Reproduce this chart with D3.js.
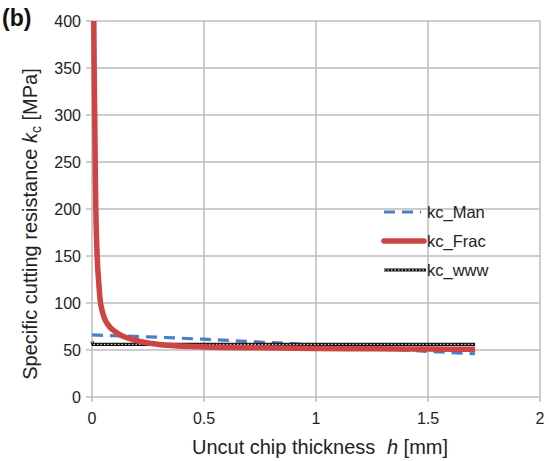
<!DOCTYPE html>
<html>
<head>
<meta charset="utf-8">
<script src="https://cdn.jsdelivr.net/npm/d3@7"></script>
<style>
  html, body { margin: 0; padding: 0; background: #fff; }
  svg { display: block; font-family: "Liberation Sans", Arial, Helvetica, sans-serif; }
</style>
</head>
<body>
<svg id="chart" width="549" height="461"></svg>
<script>
// Uncut chip thickness h [mm] and specific cutting resistance kc [MPa]
const manH   = [0, 0.25, 0.5, 0.75, 1.0, 1.25, 1.5, 1.71];
const manKc  = [66, 64, 61.5, 58.5, 55.5, 52, 48.5, 46];

const fracH  = [0.008, 0.010, 0.012, 0.015, 0.017, 0.020, 0.025, 0.030, 0.036, 0.045, 0.055, 0.071, 0.09, 0.116, 0.15, 0.19, 0.25, 0.34, 0.5, 0.75, 1.0, 1.25, 1.5, 1.71];
const fracKc = [400, 340, 300, 235, 200, 170, 140, 122, 104, 92, 84, 77, 72, 67.5, 63.5, 60.5, 57.5, 55, 53.2, 52.3, 51.7, 51.3, 51, 50.8];

const wwwH   = [0, 0.004, 0.5, 1.0, 1.5, 1.71];
const wwwKc  = [59, 56, 56, 56, 56, 56];

const xTicks = [0, 0.5, 1, 1.5, 2];
const yTicks = [0, 50, 100, 150, 200, 250, 300, 350, 400];
const seriesNames = ["kc_Man", "kc_Frac", "kc_www"];

const svg = d3.select("#chart");
const plotLeft = 92, plotRight = 540, plotTop = 21, plotBottom = 397;

const x = d3.scaleLinear().domain([0, 2]).range([plotLeft, plotRight]);
const y = d3.scaleLinear().domain([0, 400]).range([plotBottom, plotTop]);

const gridColor = "#bdbdbd";

// Grid lines with small tick overhangs
svg.append("g").selectAll("line").data(yTicks).join("line")
  .attr("x1", plotLeft - 6).attr("x2", plotRight)
  .attr("y1", d => y(d)).attr("y2", d => y(d))
  .attr("stroke", gridColor).attr("stroke-width", 1.5);

svg.append("g").selectAll("line").data(xTicks).join("line")
  .attr("x1", d => x(d)).attr("x2", d => x(d))
  .attr("y1", plotTop).attr("y2", plotBottom + 5)
  .attr("stroke", gridColor).attr("stroke-width", 1.5);

// Tick labels
svg.append("g").selectAll("text").data(yTicks).join("text")
  .attr("x", plotLeft - 11).attr("y", d => y(d) + 6)
  .attr("text-anchor", "end").attr("font-size", 16).attr("fill", "#222")
  .text(d => d);

svg.append("g").selectAll("text").data(xTicks).join("text")
  .attr("x", d => x(d)).attr("y", 424)
  .attr("text-anchor", "middle").attr("font-size", 16).attr("fill", "#222")
  .text(d => d);

// Axis titles
const xt = svg.append("text")
  .attr("x", 320).attr("y", 454).attr("text-anchor", "middle")
  .attr("font-size", 20).attr("fill", "#222");
xt.append("tspan").text("Uncut chip thickness ");
xt.append("tspan").attr("dx", 6).attr("font-style", "italic").text("h");
xt.append("tspan").text(" [mm]");

const yt = svg.append("text")
  .attr("transform", "translate(37,224) rotate(-90)")
  .attr("text-anchor", "middle").attr("font-size", 20).attr("fill", "#222");
yt.append("tspan").text("Specific cutting resistance ");
yt.append("tspan").attr("font-style", "italic").text("k");
yt.append("tspan").attr("font-size", 14).attr("dy", 4).text("c");
yt.append("tspan").attr("dy", -4).text(" [MPa]");

svg.append("text").attr("x", 2).attr("y", 26)
  .attr("font-size", 23).attr("font-weight", "bold").attr("fill", "#111")
  .text("(b)");

// Series
const line = d3.line().x(d => x(d[0])).y(d => y(d[1]));
const manData  = manH.map((h, i) => [h, manKc[i]]);
const fracData = fracH.map((h, i) => [h, fracKc[i]]);
const wwwData  = wwwH.map((h, i) => [h, wwwKc[i]]);

const blue = "#4a7ec8", red = "#cc4444";

svg.append("path").datum(manData).attr("d", line)
  .attr("fill", "none").attr("stroke", blue).attr("stroke-width", 3.2)
  .attr("stroke-dasharray", "11,7");

svg.append("path").datum(wwwData).attr("d", line)
  .attr("fill", "none").attr("stroke", "#111").attr("stroke-width", 3.2);
svg.append("path").datum(wwwData).attr("d", line)
  .attr("fill", "none").attr("stroke", "#fff").attr("stroke-width", 1)
  .attr("stroke-dasharray", "1.5,2");

svg.append("path").datum(fracData).attr("d", d3.line().curve(d3.curveMonotoneX).x(d => x(d[0])).y(d => y(d[1])))
  .attr("fill", "none").attr("stroke", red).attr("stroke-width", 5.5)
  .attr("stroke-linejoin", "round");

// Legend
const legend = svg.append("g");
const rows = [212, 241, 270];
seriesNames.forEach((name, i) => {
  const g = legend.append("g");
  const yy = rows[i];
  if (i === 0) {
    g.append("line").attr("x1", 384).attr("x2", 421).attr("y1", yy).attr("y2", yy)
      .attr("stroke", blue).attr("stroke-width", 3.2).attr("stroke-dasharray", "11,7");
  } else if (i === 1) {
    g.append("line").attr("x1", 384).attr("x2", 424).attr("y1", yy).attr("y2", yy)
      .attr("stroke", red).attr("stroke-width", 5.5).attr("stroke-linecap", "round");
  } else {
    g.append("line").attr("x1", 384).attr("x2", 426).attr("y1", yy).attr("y2", yy)
      .attr("stroke", "#111").attr("stroke-width", 3.2);
    g.append("line").attr("x1", 384).attr("x2", 426).attr("y1", yy).attr("y2", yy)
      .attr("stroke", "#fff").attr("stroke-width", 1).attr("stroke-dasharray", "1.5,2");
  }
  g.append("text").attr("x", 427).attr("y", yy + 6)
    .attr("font-size", 16.5).attr("fill", "#222").text(name);
});
</script>
</body>
</html>
